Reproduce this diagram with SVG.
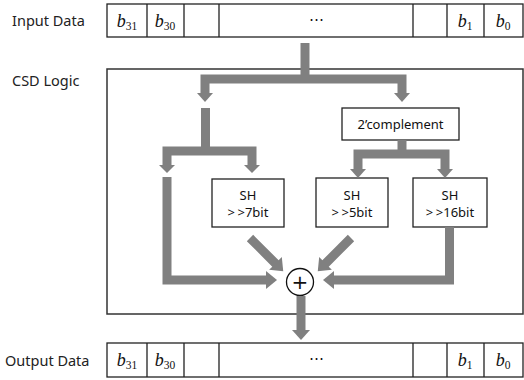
<svg xmlns="http://www.w3.org/2000/svg" width="524" height="380" viewBox="0 0 524 380">
<style>
.lbl{font-family:"Noto Sans","DejaVu Sans",sans-serif;font-size:14.5px;fill:#222}
.box{fill:#fff;stroke:#222;stroke-width:1.3}
.cell{fill:none;stroke:#222;stroke-width:1.3}
.bt{font-family:"Liberation Serif","DejaVu Serif",serif;font-style:italic;font-size:18px;fill:#111;text-anchor:middle}
.sub{font-size:11.5px;font-style:normal}
.bx{font-family:"Noto Sans","DejaVu Sans",sans-serif;font-size:13px;fill:#111;text-anchor:middle}
.gt{letter-spacing:2.5px}
.sh{fill:none;stroke:#808080;stroke-width:9;stroke-linejoin:miter}
.hd{fill:#808080}
</style>
<rect width="524" height="380" fill="#fff"/>
<g id="labels">
<text class="lbl" x="12" y="26">Input Data</text>
<text class="lbl" x="12" y="86">CSD Logic</text>
<text class="lbl" x="5" y="366">Output Data</text>
</g>
<g id="input">
<rect class="cell" x="107" y="4" width="416" height="33"/>
<path class="cell" d="M147,4V37M184,4V37M219,4V37M413,4V37M447,4V37M484,4V37"/>
<text class="bt" x="127" y="27">b<tspan class="sub" dy="3">31</tspan></text>
<text class="bt" x="165" y="27">b<tspan class="sub" dy="3">30</tspan></text>
<text class="bt" x="316" y="24" style="font-style:normal;font-size:15px">⋯</text>
<text class="bt" x="465" y="27">b<tspan class="sub" dy="3">1</tspan></text>
<text class="bt" x="503" y="27">b<tspan class="sub" dy="3">0</tspan></text>
</g>
<g id="csd">
<rect x="107" y="69" width="416" height="245" fill="none" stroke="#333" stroke-width="1.5"/>
</g>
<g id="comp">
<rect class="box" x="342" y="108" width="117" height="32"/>
<text class="bx" x="400.5" y="129">2’complement</text>
</g>
<g id="sh7">
<rect class="box" x="212" y="179" width="72" height="48"/>
<text class="bx" x="248" y="200">SH</text>
<text class="bx" x="248" y="217"><tspan class="gt">&gt;</tspan>&gt;7bit</text>
</g>
<g id="sh5">
<rect class="box" x="316" y="178" width="72" height="49"/>
<text class="bx" x="352" y="200">SH</text>
<text class="bx" x="352" y="217"><tspan class="gt">&gt;</tspan>&gt;5bit</text>
</g>
<g id="sh16">
<rect class="box" x="413" y="178" width="74" height="49"/>
<text class="bx" x="450" y="200">SH</text>
<text class="bx" x="450" y="217"><tspan class="gt">&gt;</tspan>&gt;16bit</text>
</g>
<g id="adder">
<circle cx="300" cy="282" r="13.5" fill="#fff" stroke="#111" stroke-width="1.3"/>
<text x="300" y="289" text-anchor="middle" font-family="DejaVu Sans, sans-serif" font-size="20" fill="#111">+</text>
</g>
<g id="output">
<rect class="cell" x="107" y="343" width="416" height="34"/>
<path class="cell" d="M147,343V377M184,343V377M219,343V377M413,343V377M447,343V377M484,343V377"/>
<text class="bt" x="127" y="366">b<tspan class="sub" dy="3">31</tspan></text>
<text class="bt" x="165" y="366">b<tspan class="sub" dy="3">30</tspan></text>
<text class="bt" x="316" y="363" style="font-style:normal;font-size:15px">⋯</text>
<text class="bt" x="465" y="366">b<tspan class="sub" dy="3">1</tspan></text>
<text class="bt" x="503" y="366">b<tspan class="sub" dy="3">0</tspan></text>
</g>
<g id="connectors">
<path class="sh" d="M305,43V79"/>
<path class="sh" d="M205,94V79H402V94"/>
<polygon class="hd" points="197,93 213,93 205,102"/>
<polygon class="hd" points="394,93 410,93 402,102"/>
<path class="sh" d="M205.5,108V151"/>
<path class="sh" d="M167,166V151H252V166"/>
<polygon class="hd" points="159,165 175,165 167,173"/>
<polygon class="hd" points="244,165 260,165 252,173"/>
<path class="sh" d="M402,140V154"/>
<path class="sh" d="M358,170V154H445V170"/>
<polygon class="hd" points="350,169 366,169 358,178"/>
<polygon class="hd" points="437,169 453,169 445,178"/>
<path class="sh" d="M167,177V280H267"/>
<polygon class="hd" points="266,271 266,289 277,280"/>
<path class="sh" d="M449.5,227V280H334"/>
<polygon class="hd" points="334,271 334,289 323,280"/>
<polygon class="hd" transform="translate(250,238) rotate(45)" points="0,-4.5 36,-4.5 36,-9 47,0 36,9 36,4.5 0,4.5"/>
<polygon class="hd" transform="translate(351,238) rotate(135)" points="0,-4.5 36,-4.5 36,-9 47,0 36,9 36,4.5 0,4.5"/>
<path class="sh" d="M301,296V331"/>
<polygon class="hd" points="292,330 310,330 301,340"/>
</g>
</svg>
